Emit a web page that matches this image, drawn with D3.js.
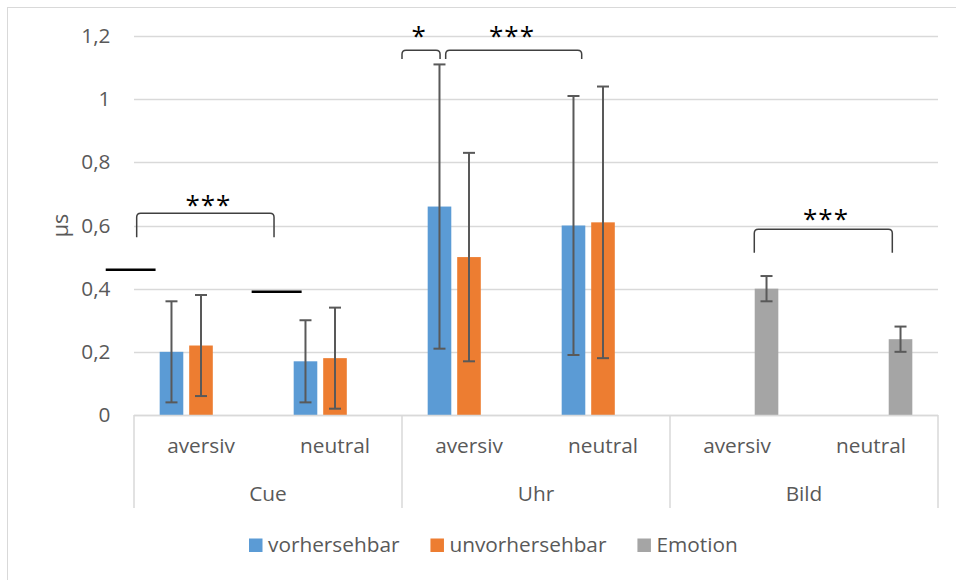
<!DOCTYPE html>
<html>
<head>
<meta charset="utf-8">
<script src="https://cdn.jsdelivr.net/npm/d3@7"></script>
<style>
  html, body { margin: 0; padding: 0; background: #fff; }
  svg { display: block; font-family: "Open Sans", "Liberation Sans", sans-serif; }
</style>
</head>
<body>
<svg id="chart" width="956" height="580"></svg>
<script>
// Groups and conditions along the two-level category axis
const groups = ["Cue", "Uhr", "Bild"];
const conditions = ["aversiv", "neutral"];
const seriesNames = ["vorhersehbar", "unvorhersehbar", "Emotion"];
const seriesColors = ["#5b9bd5", "#ed7d31", "#a5a5a5"];

// Mean values per (group, condition), in the order Cue-aversiv, Cue-neutral, Uhr-aversiv, ...
const vorhersehbar   = [0.20, 0.17, 0.66, 0.60, null, null];
const unvorhersehbar = [0.22, 0.18, 0.50, 0.61, null, null];
const emotion        = [null, null, null, null, 0.40, 0.24];

// Error bar half-widths (symmetric)
const vorhersehbarErr   = [0.16, 0.13, 0.45, 0.41, null, null];
const unvorhersehbarErr = [0.16, 0.16, 0.33, 0.43, null, null];
const emotionErr        = [null, null, null, null, 0.04, 0.04];

const yTicks = [0, 0.2, 0.4, 0.6, 0.8, 1, 1.2];

// Significance brackets: x in condition-slot units, y in data units
const brackets = [
  { x0: 0.02, x1: 1.045, yTop: 0.639, yBot: 0.563, label: "***", lx: 0.555, ly: 0.684 },
  { x0: 2.0,  x1: 2.284, yTop: 1.155, yBot: 1.127, label: "*",   lx: 2.129, ly: 1.219 },
  { x0: 2.326, x1: 3.341, yTop: 1.155, yBot: 1.127, label: "***", lx: 2.821, ly: 1.219 },
  { x0: 4.629, x1: 5.659, yTop: 0.588, yBot: 0.514, label: "***", lx: 5.164, ly: 0.640 }
];
// Reference level markers
const levelMarks = [
  { x0: -0.211, x1: 0.161, y: 0.46 },
  { x0: 0.878,  x1: 1.251, y: 0.39 }
];

const svg = d3.select("#chart");
const plot = { left: 134, right: 938, top: 36, bottom: 415 };
const textColor = "#595959";
const gridColor = "#d9d9d9";
const fs = 20.8;

// chart frame (only top and left edges fall inside the view)
svg.append("rect")
  .attr("x", 7.5).attr("y", 7.5).attr("width", 1000).attr("height", 1000)
  .attr("fill", "none").attr("stroke", "#d9d9d9").attr("stroke-width", 1);

const slots = [];
groups.forEach(g => conditions.forEach(c => slots.push(g + "|" + c)));

const x0 = d3.scaleBand().domain(slots).range([plot.left, plot.right]).padding(0);
const x1 = d3.scaleBand().domain(seriesNames).range([0, x0.bandwidth()])
  .paddingInner(0.2).paddingOuter(0.87);
const xu = d3.scaleLinear().domain([0, slots.length]).range([plot.left, plot.right]);
const y = d3.scaleLinear().domain([0, 1.2]).range([plot.bottom, plot.top]);

const fmt = v => d3.format("~g")(v).replace(".", ",");

// gridlines
svg.append("g").selectAll("line").data(yTicks).join("line")
  .attr("x1", plot.left).attr("x2", plot.right)
  .attr("y1", d => Math.round(y(d)) + 0.5).attr("y2", d => Math.round(y(d)) + 0.5)
  .attr("stroke", gridColor).attr("stroke-width", 1.5);

// y axis labels
const yAxis = d3.axisLeft(y).tickValues(yTicks).tickFormat(fmt).tickSize(0).tickPadding(23.5);
const yg = svg.append("g").attr("transform", `translate(${plot.left},0)`).call(yAxis);
yg.select(".domain").remove();
yg.selectAll("text").attr("fill", textColor).attr("font-size", fs)
  .attr("font-family", "'Open Sans', sans-serif");

// y axis title
svg.append("text")
  .attr("transform", `translate(68,${(y(0.6))}) rotate(-90)`)
  .attr("text-anchor", "middle")
  .attr("fill", textColor).attr("font-size", 21.5)
  .text("µs");

// bars
const seriesData = [
  { name: seriesNames[0], values: vorhersehbar, err: vorhersehbarErr, color: seriesColors[0] },
  { name: seriesNames[1], values: unvorhersehbar, err: unvorhersehbarErr, color: seriesColors[1] },
  { name: seriesNames[2], values: emotion, err: emotionErr, color: seriesColors[2] }
];
const barData = [];
seriesData.forEach(s => s.values.forEach((v, i) => {
  if (v != null) barData.push({ series: s.name, slot: slots[i], value: v, err: s.err[i], color: s.color });
}));

svg.append("g").selectAll("rect").data(barData).join("rect")
  .attr("x", d => x0(d.slot) + x1(d.series))
  .attr("width", x1.bandwidth())
  .attr("y", d => y(d.value))
  .attr("height", d => y(0) - y(d.value))
  .attr("fill", d => d.color);

// error bars
const eg = svg.append("g").attr("stroke", "#595959").attr("stroke-width", 2).attr("fill", "none");
barData.forEach(d => {
  const cx = x0(d.slot) + x1(d.series) + x1.bandwidth() / 2;
  const hi = y(d.value + d.err), lo = y(d.value - d.err);
  eg.append("line").attr("x1", cx).attr("x2", cx).attr("y1", hi).attr("y2", lo);
  eg.append("line").attr("x1", cx - 6).attr("x2", cx + 6).attr("y1", hi).attr("y2", hi);
  eg.append("line").attr("x1", cx - 6).attr("x2", cx + 6).attr("y1", lo).attr("y2", lo);
});

// baseline
svg.append("line")
  .attr("x1", plot.left).attr("x2", plot.right)
  .attr("y1", plot.bottom + 0.5).attr("y2", plot.bottom + 0.5)
  .attr("stroke", gridColor).attr("stroke-width", 1.5);

// group separators of the two-level axis
const groupEdges = d3.range(groups.length + 1).map(i => xu(i * conditions.length));
svg.append("g").selectAll("line").data(groupEdges).join("line")
  .attr("x1", d => d).attr("x2", d => d)
  .attr("y1", plot.bottom).attr("y2", 508)
  .attr("stroke", gridColor).attr("stroke-width", 1.5);

// condition labels
svg.append("g").selectAll("text").data(slots).join("text")
  .attr("x", d => x0(d) + x0.bandwidth() / 2)
  .attr("y", 453)
  .attr("text-anchor", "middle")
  .attr("fill", textColor).attr("font-size", fs)
  .text(d => d.split("|")[1]);

// group labels
svg.append("g").selectAll("text").data(groups).join("text")
  .attr("x", (d, i) => xu(i * conditions.length + conditions.length / 2))
  .attr("y", 500.5)
  .attr("text-anchor", "middle")
  .attr("fill", textColor).attr("font-size", fs)
  .text(d => d);

// reference level markers
svg.append("g").selectAll("line").data(levelMarks).join("line")
  .attr("x1", d => xu(d.x0)).attr("x2", d => xu(d.x1))
  .attr("y1", d => y(d.y)).attr("y2", d => y(d.y))
  .attr("stroke", "#000").attr("stroke-width", 2.5);

// significance brackets
const r = 4;
const bg = svg.append("g");
brackets.forEach(b => {
  const L = xu(b.x0), R = xu(b.x1), T = y(b.yTop), B = y(b.yBot);
  const p = d3.path();
  p.moveTo(L, B);
  p.lineTo(L, T + r);
  p.quadraticCurveTo(L, T, L + r, T);
  p.lineTo(R - r, T);
  p.quadraticCurveTo(R, T, R, T + r);
  p.lineTo(R, B);
  bg.append("path").attr("d", p.toString())
    .attr("fill", "none").attr("stroke", "#404040").attr("stroke-width", 1.5);
  bg.append("text")
    .attr("x", xu(b.lx)).attr("y", y(b.ly) + 15.5)
    .attr("text-anchor", "middle")
    .attr("fill", "#000").attr("font-size", 26)
    .attr("letter-spacing", 1)
    .text(b.label);
});

// legend
const legend = svg.append("g");
let lx = 249;
seriesNames.forEach((name, i) => {
  legend.append("rect")
    .attr("x", lx).attr("y", 538.5).attr("width", 13.5).attr("height", 13.5)
    .attr("fill", seriesColors[i]);
  const t = legend.append("text")
    .attr("x", lx + 19).attr("y", 552)
    .attr("fill", textColor).attr("font-size", fs)
    .text(name);
  lx += 19 + t.node().getComputedTextLength() + 31;
});
</script>
</body>
</html>
